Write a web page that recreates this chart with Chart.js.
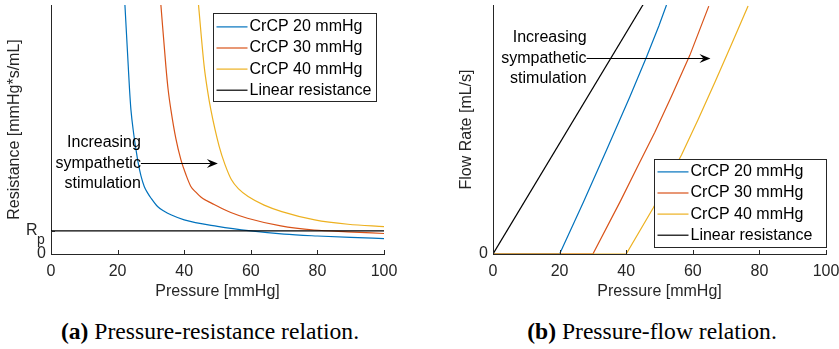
<!DOCTYPE html>
<html>
<head>
<meta charset="utf-8">
<script src="https://cdn.jsdelivr.net/npm/chart.js@4.4.0/dist/chart.umd.min.js"></script>
<style>
  body { margin: 0; background: #fff; width: 839px; height: 349px; position: relative; overflow: hidden; }
  canvas { position: absolute; top: 0; }
  #c1 { left: 0; }
  #c2 { left: 420px; }
  .cap { position: absolute; top: 318px; line-height: 26px; font-family: "Liberation Serif", "Times New Roman", serif;
         font-size: 23.6px; color: #000; white-space: nowrap; transform: translateX(-50%); }
</style>
</head>
<body>
<canvas id="c1" width="420" height="302"></canvas>
<canvas id="c2" width="419" height="302"></canvas>
<div class="cap" style="left:210px"><b>(a)</b> Pressure-resistance relation.</div>
<div class="cap" style="left:652px"><b>(b)</b> Pressure-flow relation.</div>
<script>
// series
var seriesLabels = ["CrCP 20 mmHg", "CrCP 30 mmHg", "CrCP 40 mmHg", "Linear resistance"];
var seriesColors = ["#0072BD", "#D95319", "#EDB120", "#000000"];

// (a) resistance, in units of Rp
var resP20 = [22.2, 23.2, 23.6, 24.0, 24.8, 25.5, 26.2, 27, 28, 29, 30, 32, 34, 36, 40, 50, 60, 70, 80, 90, 100];
var resR20 = [10.8, 8.14, 7.1, 6.26, 5.25, 4.55, 3.94, 3.4, 2.93, 2.65, 2.43, 2.06, 1.85, 1.7, 1.48, 1.2, 1.0, 0.86, 0.78, 0.72, 0.67];
var resP30 = [33, 34.5, 35.2, 36, 37.5, 39, 40.5, 42, 43.5, 45, 46.5, 49, 51.5, 54, 59, 69, 79, 89, 100];
var resR30 = [10.8, 8.14, 7.1, 6.26, 5.0, 4.09, 3.45, 2.93, 2.68, 2.47, 2.33, 2.15, 1.96, 1.8, 1.55, 1.22, 1.04, 0.96, 0.89];
var resP40 = [44.3, 46, 47, 48, 50.5, 52.2, 54.2, 56.5, 59.2, 64, 69.3, 79.2, 89.2, 100];
var resR40 = [10.8, 8.14, 7.1, 6.26, 4.67, 3.9, 3.22, 2.8, 2.49, 2.12, 1.84, 1.48, 1.29, 1.19];
var resPLin = [0, 100];
var resRLin = [1, 1];

// (b) flow
var flowP20 = [0, 20, 27.1, 34.1, 41.1, 46.1, 49.8, 52.1];
var flowF20 = [0, 0, 9.3, 18.8, 28.4, 35.6, 41.2, 45];
var flowP30 = [0, 30, 38.3, 43.5, 48.6, 53.6, 59.1, 64.8];
var flowF30 = [0, 0, 9.6, 15.9, 22.0, 28.5, 35.9, 44.8];
var flowP40 = [0, 40, 48.1, 56.6, 61.6, 66.6, 71.7, 76.6];
var flowF40 = [0, 0, 8.3, 17.9, 24.3, 31.0, 38.0, 44.8];
var flowPLin = [0, 100];
var flowFLin = [0, 100];

var xTicks = [0, 20, 40, 60, 80, 100];

var FONT = '"Liberation Sans", Arial, Helvetica, sans-serif';
var AX = "#262626";

function pts(xs, ys) {
  return xs.map(function (x, i) { return { x: x, y: ys[i] }; });
}

function makeSets(xsList, ysList, smooth) {
  return xsList.map(function (xs, i) {
    return {
      label: seriesLabels[i],
      data: pts(xs, ysList[i]),
      borderColor: seriesColors[i],
      borderWidth: 1.2,
      pointRadius: 0,
      fill: false,
      tension: smooth ? 0.4 : 0,
      cubicInterpolationMode: smooth ? "monotone" : "default",
      order: 4 - i,
    };
  });
}

// MATLAB style ticks pointing into the axes
var inTicks = {
  id: "inTicks",
  afterDraw: function (chart) {
    var ctx = chart.ctx, a = chart.chartArea;
    var sx = chart.scales.x, sy = chart.scales.y;
    ctx.save();
    ctx.strokeStyle = AX;
    ctx.lineWidth = 1;
    ctx.beginPath();
    sx.ticks.forEach(function (t) {
      var p = Math.round(sx.getPixelForValue(t.value)) + 0.5;
      ctx.moveTo(p, a.bottom);
      ctx.lineTo(p, a.bottom - 4);
    });
    sy.ticks.forEach(function (t) {
      var p = Math.round(sy.getPixelForValue(t.value)) + 0.5;
      ctx.moveTo(a.left, p);
      ctx.lineTo(a.left + 4, p);
    });
    ctx.stroke();
    ctx.restore();
  },
};

var boxLegend = {
  id: "boxLegend",
  afterDraw: function (chart, args, o) {
    var ctx = chart.ctx, a = chart.chartArea;
    var x0 = Math.round(a.right - o.offRight - o.width) + 0.5;
    var y0 = Math.round(o.top != null ? a.top + o.top : a.bottom - o.bottom - o.height) + 0.5;
    ctx.save();
    ctx.fillStyle = "#fff";
    ctx.fillRect(x0, y0, o.width, o.height);
    ctx.strokeStyle = AX;
    ctx.lineWidth = 1;
    ctx.strokeRect(x0, y0, o.width, o.height);
    ctx.font = "16px " + FONT;
    ctx.textBaseline = "middle";
    ctx.textAlign = "left";
    chart.data.datasets.forEach(function (d, i) {
      var y = y0 + o.first + i * o.row;
      ctx.strokeStyle = d.borderColor;
      ctx.lineWidth = d.borderWidth;
      ctx.beginPath();
      ctx.moveTo(x0 + 3, y);
      ctx.lineTo(x0 + 34, y);
      ctx.stroke();
      ctx.fillStyle = "#000";
      ctx.fillText(d.label, x0 + 36, y);
    });
    ctx.restore();
  },
};

var arrowNote = {
  id: "arrowNote",
  afterDatasetsDraw: function (chart, args, o) {
    var ctx = chart.ctx, sx = chart.scales.x, sy = chart.scales.y;
    var x1 = sx.getPixelForValue(o.x1), x2 = sx.getPixelForValue(o.x2);
    var y = Math.round(sy.getPixelForValue(o.y)) + 0.5;
    ctx.save();
    ctx.strokeStyle = "#000";
    ctx.fillStyle = "#000";
    ctx.lineWidth = 1;
    ctx.beginPath();
    ctx.moveTo(x1, y);
    ctx.lineTo(x2 - 7, y);
    ctx.stroke();
    ctx.beginPath();
    ctx.moveTo(x2, y);
    ctx.lineTo(x2 - 11, y - 4.5);
    ctx.lineTo(x2 - 7, y);
    ctx.lineTo(x2 - 11, y + 4.5);
    ctx.closePath();
    ctx.fill();
    ctx.font = "16px " + FONT;
    ctx.textAlign = "right";
    ctx.textBaseline = "middle";
    o.lines.forEach(function (t, i) {
      ctx.fillText(t, x1, y + (i - 1) * 20.5);
    });
    ctx.restore();
  },
};

// R with subscript p on the resistance axis
var rpLabel = {
  id: "rpLabel",
  afterDraw: function (chart, args, o) {
    if (o.value == null) return;
    var ctx = chart.ctx, sy = chart.scales.y;
    var y = sy.getPixelForValue(o.value);
    ctx.save();
    ctx.fillStyle = AX;
    ctx.textBaseline = "alphabetic";
    ctx.textAlign = "left";
    ctx.font = "16px " + FONT;
    ctx.fillText("R", 26, y + 4);
    ctx.font = "14px " + FONT;
    ctx.fillText("p", 37, y + 13);
    ctx.restore();
  },
};

function noPad(s) {
  s.paddingLeft = 0; s.paddingRight = 0; s.paddingTop = 0; s.paddingBottom = 0;
}

function xScale() {
  return {
    type: "linear", min: 0, max: 100,
    afterBuildTicks: function (s) { s.ticks = xTicks.map(function (v) { return { value: v }; }); },
    afterFit: function (s) { s.height = 48; noPad(s); },
    grid: { display: false, drawTicks: false },
    border: { display: true, color: AX, width: 1 },
    ticks: { color: AX, padding: 8, maxRotation: 0, font: { family: FONT, size: 16 } },
    title: { display: true, text: "Pressure [mmHg]", color: AX, padding: { top: 0, bottom: 1 },
             font: { family: FONT, size: 16 } },
  };
}

function yScale(max, tickVals, labelFn, title, titlePad, width) {
  return {
    type: "linear", min: 0, max: max,
    afterBuildTicks: function (s) { s.ticks = tickVals.map(function (v) { return { value: v }; }); },
    afterFit: function (s) { s.width = width; noPad(s); },
    grid: { display: false, drawTicks: false },
    border: { display: true, color: AX, width: 1 },
    ticks: { color: AX, padding: 5, font: { family: FONT, size: 16 }, callback: labelFn },
    title: { display: true, text: title, color: AX, padding: { top: titlePad, bottom: 0 },
             font: { family: FONT, size: 16 } },
  };
}

new Chart(document.getElementById("c1"), {
  type: "line",
  data: {
    datasets: makeSets([resP20, resP30, resP40, resPLin], [resR20, resR30, resR40, resRLin], true),
  },
  options: {
    responsive: false, animation: false, events: [],
    layout: { padding: { top: 5, right: 36, left: 0, bottom: 0 } },
    scales: {
      x: xScale(),
      y: yScale(10.8, [0, 1], function (v) { return v === 0 ? "0" : ""; },
                "Resistance [mmHg*s/mL]", 5, 51),
    },
    plugins: {
      legend: { display: false },
      tooltip: { enabled: false },
      boxLegend: { offRight: 8, top: 8, width: 163, height: 88, first: 13.4, row: 21.1 },
      arrowNote: { x1: 27, x2: 50.1, y: 3.96, lines: ["Increasing", "sympathetic", "stimulation"] },
      rpLabel: { value: 1 },
    },
  },
  plugins: [inTicks, arrowNote, boxLegend, rpLabel],
});

new Chart(document.getElementById("c2"), {
  type: "line",
  data: {
    datasets: makeSets([flowP20, flowP30, flowP40, flowPLin], [flowF20, flowF30, flowF40, flowFLin], false),
  },
  options: {
    responsive: false, animation: false, events: [],
    layout: { padding: { top: 5, right: 13, left: 0, bottom: 0 } },
    scales: {
      x: xScale(),
      y: yScale(45, [0], function (v) { return v === 0 ? "0" : ""; },
                "Flow Rate [mL/s]", 37, 73),
    },
    plugins: {
      legend: { display: false },
      tooltip: { enabled: false },
      boxLegend: { offRight: 0, bottom: 7, width: 172, height: 88, first: 12.4, row: 21.1 },
      arrowNote: { x1: 28.1, x2: 65.3, y: 35.5, lines: ["Increasing", "sympathetic", "stimulation"] },
    },
  },
  plugins: [inTicks, arrowNote, boxLegend],
});
</script>
</body>
</html>
